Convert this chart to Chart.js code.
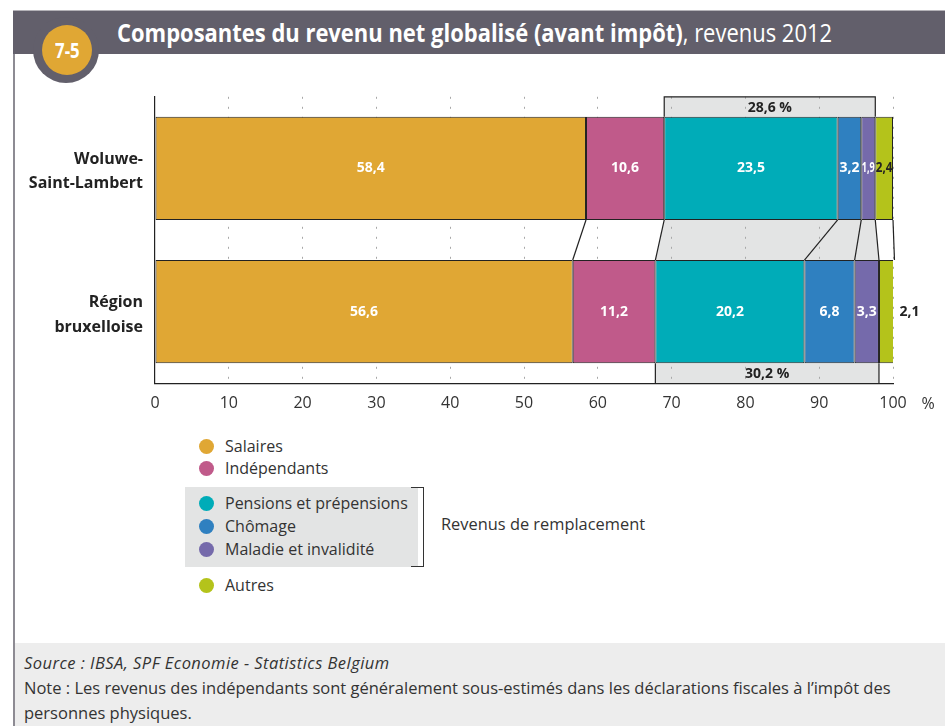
<!DOCTYPE html>
<html><head><meta charset="utf-8">
<script src="https://cdn.jsdelivr.net/npm/chart.js@4.4.1/dist/chart.umd.min.js"></script>
<style>
html,body{margin:0;padding:0;background:#fff;}
body{width:945px;height:726px;position:relative;overflow:hidden;font-family:"Open Sans",sans-serif;color:#333;}
.abs{position:absolute;}
#hdr{left:13px;top:10px;width:932px;height:44px;background:#625f6b;border-top:1px solid #b4b2b8;box-sizing:border-box}
#lborder{left:13px;top:54px;width:2px;height:672px;background:#8d8b93}
#ring{left:33px;top:17px;width:66px;height:66px;border-radius:50%;background:#625f6b}
#badge{left:42px;top:25px;width:50px;height:50px;border-radius:50%;background:#e0a734;display:flex;align-items:center;justify-content:center}
#badge span{color:#fff;font-weight:bold;font-size:21px;display:inline-block;transform:scaleX(0.8)}
#title{left:117px;top:14px;color:#fff;font-size:25px;white-space:nowrap;line-height:36px;transform-origin:0 50%}
#title b{font-weight:bold}
#footer{left:15px;top:643px;width:930px;height:83px;background:#ededed}
#ftext{left:24px;top:650px;font-size:16.5px;line-height:25px;color:#333;white-space:nowrap}
#ftext i{letter-spacing:0.45px}
#c{left:0;top:60px;}
.li{position:absolute;left:199px;height:22px;display:flex;align-items:center;font-size:16px;color:#333;white-space:nowrap}
.dot{width:15px;height:15px;border-radius:50%;margin-right:11px}
#gbox{left:185px;top:487px;width:233px;height:80px;background:#e3e4e4}
#brk{left:411px;top:487px;width:12px;height:78px;border:1.5px solid #333;border-left:none}
#rr{left:441px;top:512px;font-size:16.4px;color:#333;white-space:nowrap}
</style></head>
<body>
<div id="hdr" class="abs"></div>
<div id="lborder" class="abs"></div>
<div id="ring" class="abs"></div>
<div id="badge" class="abs"><span>7-5</span></div>
<div id="title" class="abs"><b>Composantes du revenu net globalisé (avant impôt)</b>, revenus 2012</div>
<div id="footer" class="abs"></div>
<div id="ftext" class="abs"><i>Source : IBSA, SPF Economie - Statistics Belgium</i><br>Note : Les revenus des indépendants sont généralement sous-estimés dans les déclarations fiscales à l’impôt des<br>personnes physiques.</div>
<canvas id="c" class="abs" width="945" height="360"></canvas>
<div id="gbox" class="abs"></div>
<div id="brk" class="abs"></div>
<div id="rr" class="abs">Revenus de remplacement</div>
<div id="legend"></div>
<script>
// ---- data ----
const categories = [["Woluwe-","Saint-Lambert"],["Région","bruxelloise"]];
const seriesNames = ["Salaires","Indépendants","Pensions et prépensions","Chômage","Maladie et invalidité","Autres"];
const salaires     = [58.4, 56.6];
const independants = [10.6, 11.2];
const pensions     = [23.5, 20.2];
const chomage      = [3.2, 6.8];
const maladie      = [1.9, 3.3];
const autres       = [2.4, 2.1];
const replacementTotals = [28.6, 30.2];
const xTicks = [0,10,20,30,40,50,60,70,80,90,100];

const seriesValues = [salaires, independants, pensions, chomage, maladie, autres];
const colors = ["#e0a734","#c05a8a","#00acb8","#2f80c0","#756aab","#b4c31b"];
const GRAY = "#e3e4e4";
const DARK = "#222";

// fit title to its width in the reference
(function(){
  const t=document.getElementById('title');
  const w=t.scrollWidth; t.style.transform='scaleX('+(715/w)+')';
})();

// legend
const legendTops = [435,457,492,515,538,574];
const lg = document.getElementById('legend');
seriesNames.forEach((n,i)=>{
  const d=document.createElement('div'); d.className='li'; d.style.top=legendTops[i]+'px';
  d.innerHTML='<span class="dot" style="background:'+colors[i]+'"></span>'+n;
  lg.appendChild(d);
});

function fmt(v){return v.toFixed(1).replace('.',',');}
function txt(ctx,s,x,y,align,maxW){
  const w=ctx.measureText(s).width;
  const sx = (maxW && w>maxW) ? maxW/w : 1;
  ctx.save(); ctx.translate(x,y); ctx.scale(sx,1); ctx.textAlign=align; ctx.fillText(s,0,0); ctx.restore();
}

function geom(chart,row){
  const el = chart.getDatasetMeta(0).data[row];
  return {top: el.y - el.height/2, bottom: el.y + el.height/2, y: el.y};
}
function cum(row,n){let s=0;for(let i=0;i<n;i++)s+=seriesValues[i][row];return s;}

const LABEL_FONT='bold 14px "Open Sans",sans-serif';
const overlay = {
  id:'overlay',
  beforeDraw(chart){
    const {ctx, chartArea:ca, scales:{x}} = chart;
    const W=geom(chart,0), R=geom(chart,1);
    const wS=x.getPixelForValue(cum(0,2)), wE=x.getPixelForValue(cum(0,5));
    const rS=x.getPixelForValue(cum(1,2)), rE=x.getPixelForValue(cum(1,5));
    ctx.save();
    ctx.fillStyle=GRAY;
    ctx.fillRect(wS, ca.top, wE-wS, W.top-ca.top);
    ctx.beginPath(); ctx.moveTo(wS,W.bottom); ctx.lineTo(wE,W.bottom); ctx.lineTo(rE,R.top); ctx.lineTo(rS,R.top); ctx.closePath(); ctx.fill();
    ctx.fillRect(rS, R.bottom, rE-rS, ca.bottom-R.bottom);
    ctx.restore();
  },
  afterDatasetsDraw(chart){
    const {ctx, chartArea:ca, scales:{x}} = chart;
    const W=geom(chart,0), R=geom(chart,1);
    const wS=x.getPixelForValue(cum(0,2)), wE=x.getPixelForValue(cum(0,5));
    const rS=x.getPixelForValue(cum(1,2)), rE=x.getPixelForValue(cum(1,5));
    ctx.save();
    ctx.strokeStyle=DARK; ctx.lineWidth=1.2;
    for(let k=1;k<=seriesValues.length;k++){
      ctx.beginPath();
      ctx.moveTo(x.getPixelForValue(cum(0,k)), W.bottom);
      ctx.lineTo(x.getPixelForValue(cum(1,k)), R.top);
      ctx.stroke();
    }
    ctx.beginPath(); ctx.moveTo(wS,W.top); ctx.lineTo(wS,ca.top); ctx.lineTo(wE,ca.top); ctx.lineTo(wE,W.top); ctx.stroke();
    ctx.beginPath(); ctx.moveTo(rS,R.bottom); ctx.lineTo(rS,ca.bottom); ctx.moveTo(rE,R.bottom); ctx.lineTo(rE,ca.bottom); ctx.stroke();
    ctx.fillStyle=DARK; ctx.textBaseline='middle'; ctx.font=LABEL_FONT;
    txt(ctx, fmt(replacementTotals[0])+' %', (wS+wE)/2, (ca.top+W.top)/2+1, 'center');
    txt(ctx, fmt(replacementTotals[1])+' %', (rS+rE)/2, (R.bottom+ca.bottom)/2+1, 'center');
    chart.data.datasets.forEach((ds,i)=>{
      chart.getDatasetMeta(i).data.forEach((el,j)=>{
        const v=ds.data[j];
        const last = i===seriesValues.length-1;
        ctx.fillStyle = last ? DARK : '#fff';
        if(last && j===1){
          txt(ctx, fmt(v), el.x+5, el.y, 'left');
        } else {
          txt(ctx, fmt(v), (el.x+el.base)/2, el.y, 'center', Math.abs(el.x-el.base)-1);
        }
      });
    });
    ctx.restore();
  },
  afterDraw(chart){
    const {ctx, chartArea:ca} = chart;
    ctx.save();
    ctx.fillStyle='#333'; ctx.font='16px "Open Sans",sans-serif'; ctx.textAlign='center'; ctx.textBaseline='middle';
    ctx.fillText('%', 928, ca.bottom+21);
    ctx.restore();
  }
};

new Chart(document.getElementById('c'), {
  type:'bar',
  data:{
    labels: categories,
    datasets: seriesNames.map((n,i)=>({
      label:n, data:seriesValues[i], backgroundColor:colors[i],
      borderColor:DARK, borderWidth:1, borderSkipped:false,
      barPercentage:0.72, categoryPercentage:1
    }))
  },
  options:{
    indexAxis:'y', responsive:false, animation:false, devicePixelRatio:1,
    layout:{padding:{top:35,right:52,left:0,bottom:0}},
    plugins:{legend:{display:false}, tooltip:{enabled:false}},
    scales:{
      x:{stacked:true,min:0,max:100,
        afterBuildTicks(s){s.ticks=xTicks.map(v=>({value:v}));},
        afterFit(s){s.height=36;},
        ticks:{color:'#333',font:{family:'"Open Sans",sans-serif',size:16},padding:11,maxRotation:0,autoSkip:false},
        grid:{drawTicks:false,lineWidth:1,color:c=>(c.tick&&c.tick.value===0)?'rgba(0,0,0,0)':'#a8a8a8'},
        border:{display:true,color:DARK,width:1.2,dash:[2,8]}
      },
      y:{stacked:true,
        afterFit(s){s.width=155;},
        ticks:{color:DARK,font:{family:'"Open Sans",sans-serif',size:16,weight:'bold',lineHeight:1.55},padding:12,labelOffset:3},
        grid:{display:false,drawTicks:false},
        border:{display:true,color:DARK,width:1.2}
      }
    }
  },
  plugins:[overlay]
});
</script>
</body></html>
